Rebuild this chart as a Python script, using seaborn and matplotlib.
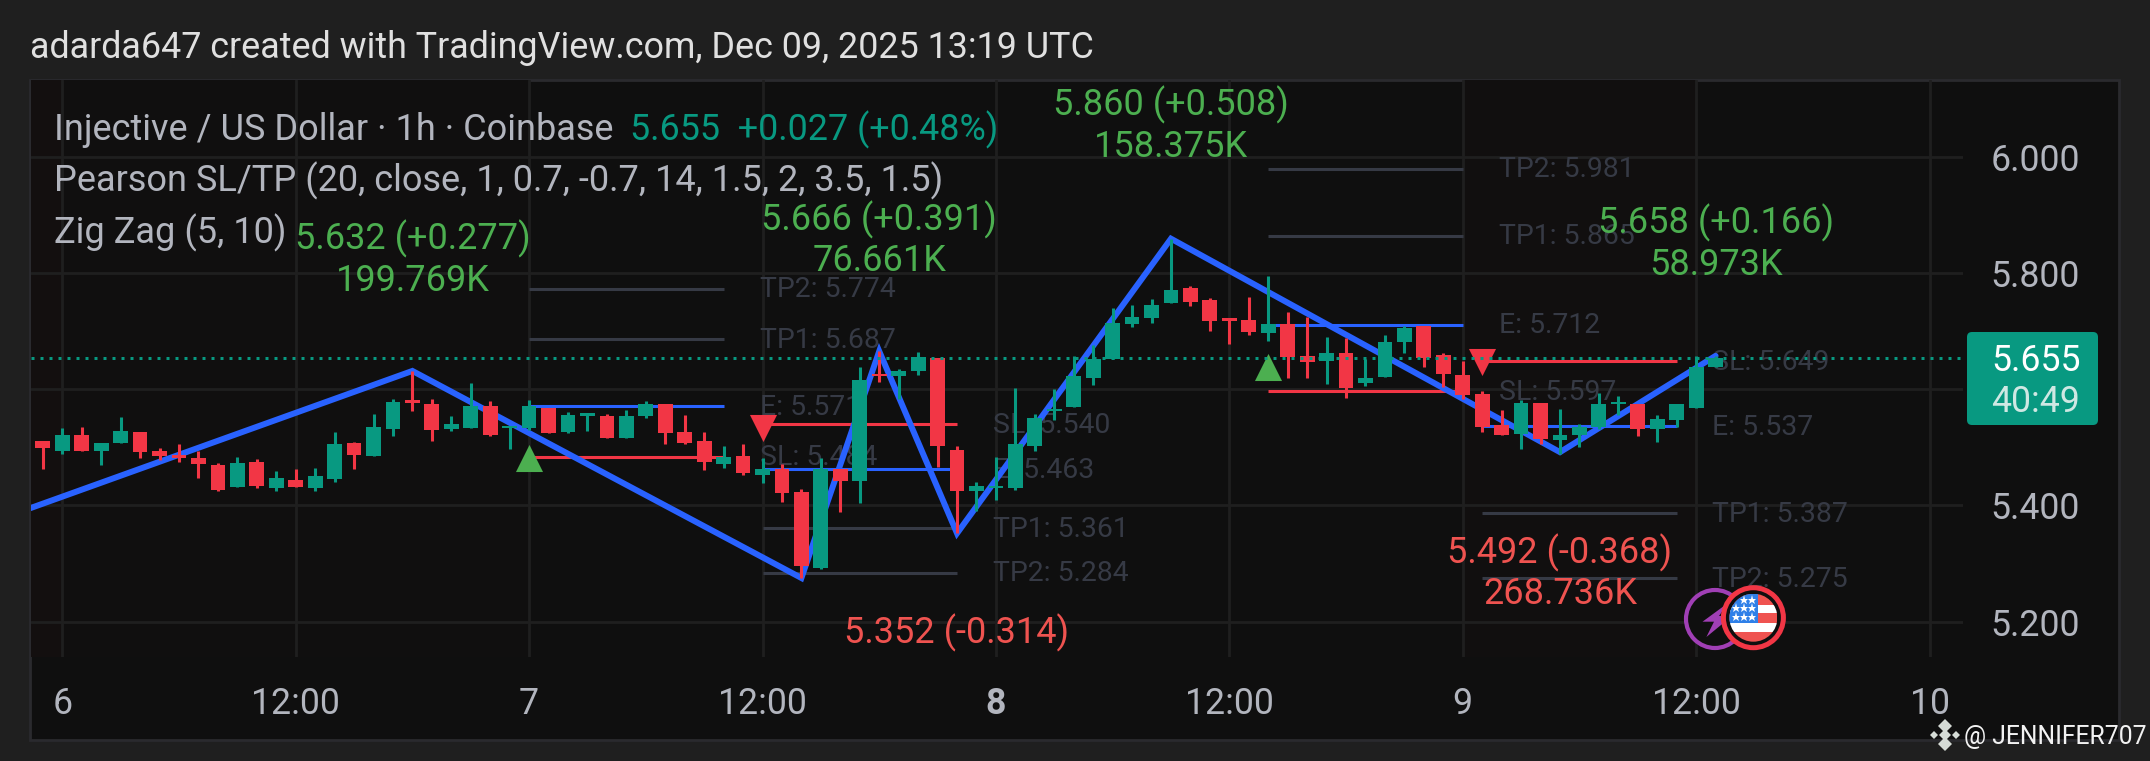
import numpy as np
import pandas as pd
import seaborn as sns
import matplotlib
matplotlib.use("Agg")
import matplotlib.pyplot as plt
from matplotlib.lines import Line2D
from matplotlib.patches import Rectangle, FancyBboxPatch, Circle, Polygon
from matplotlib.transforms import IdentityTransform

# ---------- data ----------
first_hour = -1
opens = [5.511,5.494,5.522,5.494,5.508,5.527,5.494,5.487,5.482,5.470,5.432,5.475,5.430,5.444,5.430,5.446,5.508,5.485,5.532,5.582,5.575,5.532,5.534,5.572,5.534,5.534,
         5.568,5.527,5.554,5.554,5.516,5.554,5.575,5.527,5.511,5.472,5.485,5.453,5.463,5.423,5.292,5.463,5.442,5.627,5.623,5.632,5.654,5.496,5.425,5.430,5.430,5.503,
         5.563,5.570,5.620,5.653,5.713,5.723,5.749,5.775,5.754,5.723,5.720,5.698,5.713,5.658,5.649,5.663,5.611,5.622,5.682,5.710,5.660,5.625,5.592,5.539,5.523,
         5.577,5.513,5.522,5.535,5.575,5.575,5.532,5.547,5.568,5.639]
highs = [5.511,5.534,5.535,5.508,5.553,5.527,5.499,5.506,5.494,5.473,5.484,5.480,5.460,5.463,5.465,5.527,5.510,5.558,5.584,5.632,5.584,5.554,5.611,5.580,5.537,5.582,
         5.568,5.561,5.560,5.558,5.565,5.580,5.575,5.556,5.527,5.503,5.506,5.482,5.472,5.428,5.482,5.463,5.639,5.667,5.635,5.665,5.654,5.503,5.441,5.484,5.603,5.558,
         5.601,5.658,5.677,5.741,5.746,5.756,5.860,5.779,5.758,5.723,5.760,5.796,5.734,5.725,5.691,5.689,5.653,5.694,5.710,5.710,5.663,5.649,5.597,5.565,5.582,
         5.577,5.566,5.541,5.594,5.589,5.575,5.556,5.575,5.658,5.658]
lows = [5.463,5.489,5.494,5.470,5.508,5.482,5.478,5.475,5.447,5.425,5.432,5.430,5.425,5.432,5.425,5.441,5.463,5.485,5.520,5.563,5.511,5.529,5.534,5.520,5.497,5.530,
        5.525,5.525,5.529,5.516,5.516,5.551,5.506,5.506,5.461,5.465,5.453,5.439,5.406,5.275,5.290,5.389,5.404,5.613,5.584,5.625,5.466,5.353,5.391,5.409,5.427,5.494,
        5.547,5.570,5.608,5.653,5.708,5.715,5.749,5.744,5.701,5.679,5.694,5.684,5.620,5.620,5.610,5.585,5.606,5.622,5.663,5.639,5.604,5.584,5.527,5.522,5.497,
        5.506,5.489,5.501,5.532,5.556,5.520,5.510,5.535,5.568,5.639]
closes = [5.499,5.522,5.494,5.508,5.529,5.492,5.485,5.482,5.472,5.427,5.473,5.434,5.447,5.432,5.451,5.506,5.487,5.535,5.579,5.577,5.530,5.541,5.572,5.522,5.537,5.572,
          5.525,5.556,5.560,5.516,5.554,5.575,5.525,5.508,5.475,5.484,5.456,5.463,5.422,5.296,5.463,5.442,5.616,5.623,5.632,5.656,5.503,5.425,5.434,5.434,5.506,5.551,
          5.566,5.623,5.653,5.715,5.725,5.746,5.772,5.751,5.718,5.718,5.699,5.713,5.656,5.648,5.663,5.603,5.620,5.682,5.706,5.654,5.627,5.591,5.535,5.522,5.577,
          5.515,5.522,5.535,5.575,5.579,5.532,5.549,5.575,5.639,5.655]

zig_hours = [-5, 18, 38, 42, 46, 57, 77, 85]
zig_prices = [5.355, 5.632, 5.275, 5.666, 5.352, 5.860, 5.492, 5.658]

level_starts = [24, 24, 24, 24, 36, 36, 36, 36, 62, 62, 62, 62, 73, 73, 73, 73]
level_ends   = [34, 34, 34, 34, 46, 46, 46, 46, 72, 72, 72, 72, 83, 83, 83, 83]
level_prices = [5.774, 5.687, 5.571, 5.484, 5.540, 5.463, 5.361, 5.284, 5.981, 5.865, 5.712, 5.597, 5.649, 5.537, 5.387, 5.275]
level_kinds  = ["TP2","TP1","E","SL","SL","E","TP1","TP2","TP2","TP1","E","SL","SL","E","TP1","TP2"]

signal_hours = [24, 36, 62, 73]
signal_prices = [5.482, 5.534, 5.638, 5.648]
signal_kinds = ["long", "short", "long", "short"]

label_hours = [18, 18, 57, 57, 42, 42, 46, 85, 85, 77, 77]
label_prices = [5.860, 5.787, 6.090, 6.018, 5.892, 5.822, 5.180, 5.887, 5.814, 5.319, 5.247]
label_texts = ["5.632 (+0.277)", "199.769K", "5.860 (+0.508)", "158.375K", "5.666 (+0.391)", "76.661K",
               "5.352 (-0.314)", "5.658 (+0.166)", "58.973K", "5.492 (-0.368)", "268.736K"]
last_price = 5.655
x_ticks = [0, 12, 24, 36, 48, 60, 72, 84, 96]
x_labels = ["6", "12:00", "7", "12:00", "8", "12:00", "9", "12:00", "10"]
y_ticks = [5.2, 5.4, 5.6, 5.8, 6.0]

# ---------- style ----------
UP, DOWN = "#089981", "#f23645"
W, H = 2150, 761
sns.set_theme(style="dark")
plt.rcParams["font.family"] = ["Roboto", "DejaVu Sans"]

fig = plt.figure(figsize=(W/100, H/100), dpi=100, facecolor="#1f1f1f")
ID = IdentityTransform()
def Y(y):
    return H - y
fig.add_artist(Rectangle((30, Y(740)), 2089, 660, transform=ID, fc="#0f0f0f", ec="#2a2a2e", lw=2, zorder=-5))

ax = fig.add_axes([31/W, 1-657/H, (1963-31)/W, (657-80)/H])
ax.set_facecolor("none")

df = pd.DataFrame({"hour": np.arange(len(opens)) + first_hour, "open": opens, "high": highs, "low": lows, "close": closes})
df["bottom"] = df[["open", "close"]].min(axis=1)
df["height"] = (df["close"] - df["open"]).abs()
df["up"] = df["close"] >= df["open"]

ax.axvspan(-1.7, 0, color="#130f0f", lw=0, zorder=0)
ax.axvspan(0, 24, color="#100f0f", lw=0, zorder=0)
ax.axvspan(72, 84, color="#110f0f", lw=0, zorder=0)

# levels
grey = "#363a45"
for s, e, p, k in zip(level_starts, level_ends, level_prices, level_kinds):
    c = {"E": "#2962ff", "SL": DOWN}.get(k, grey)
    ax.hlines(p, s, e, colors=c, lw=2.2, zorder=2)
    lx = {24: 35.87, 36: 47.87, 62: 73.87, 73: 84.8}[s]
    ax.text(lx, p - 0.002, f"{k}: {p:.3f}", color=grey, fontsize=20.4, va="center", ha="left", zorder=1.5)

# zigzag
sns.lineplot(x=zig_hours, y=zig_prices, color="#2962ff", linewidth=4.3, ax=ax, zorder=3, sort=False, errorbar=None,
             solid_joinstyle="miter")

# candles
for flag, col in [(True, UP), (False, DOWN)]:
    sub = df[df["up"] == flag]
    ax.vlines(sub["hour"], sub["low"], sub["high"], colors=col, lw=2.2, zorder=4)
    sns.barplot(data=sub, x="hour", y="height", bottom=sub["bottom"].to_numpy(), native_scale=True, color=col,
                saturation=1, width=0.76, errorbar=None, linewidth=0, ax=ax, zorder=4)

# signals
sig = pd.DataFrame({"h": signal_hours, "p": signal_prices, "k": signal_kinds})
sns.scatterplot(data=sig[sig.k == "long"], x="h", y="p", marker="^", s=380, color="#4caf50", linewidth=0, ax=ax, zorder=4.5)
sns.scatterplot(data=sig[sig.k == "short"], x="h", y="p", marker="v", s=380, color=DOWN, linewidth=0, ax=ax, zorder=4.5)

# last price
ax.axhline(last_price, color=UP, lw=2.16, ls=(0, (1, 2)), zorder=5)

# pivot labels
for h, p, t in zip(label_hours, label_prices, label_texts):
    col = "#ef5350" if "-" in t or t == "268.736K" else "#4caf50"
    ax.text(h, p, t, color=col, fontsize=26, ha="center", va="center", zorder=6)

# axes
ax.set_xlim(-1.609, 97.72)
ax.set_ylim(5.1388, 6.1336)
ax.set_xticks(x_ticks)
ax.set_xticklabels(x_labels)
ax.set_yticks(y_ticks)
ax.set_yticklabels([f"{v:.3f}" for v in y_ticks])
ax.yaxis.tick_right()
ax.set_xlabel(""); ax.set_ylabel("")
ax.tick_params(axis="x", length=0, pad=21, labelsize=25.7, labelcolor="#b2b5be")
ax.tick_params(axis="y", length=0, pad=20, labelsize=25.7, labelcolor="#b2b5be", labelright=True, labelleft=False)
ax.get_xticklabels()[4].set_fontweight("bold")
ax.grid(True, color="#1f1f1f", lw=2)
ax.set_axisbelow(True)
for s in ax.spines.values():
    s.set_visible(False)

# chrome text
fig.text(30/W, Y(48.5)/H, "adarda647 created with TradingView.com, Dec 09, 2025 13:19 UTC", color="#e0e0e0", fontsize=25.85, va="center")
lg = "#b2b5be"
fig.text(54/W, Y(130)/H, "Injective / US Dollar · 1h · Coinbase", color=lg, fontsize=26, va="center")
fig.text(630/W, Y(130)/H, "5.655  +0.027 (+0.48%)", color=UP, fontsize=25.8, va="center")
fig.text(54/W, Y(181)/H, "Pearson SL/TP (20, close, 1, 0.7, -0.7, 14, 1.5, 2, 3.5, 1.5)", color=lg, fontsize=26, va="center")
fig.text(54/W, Y(233)/H, "Zig Zag (5, 10)", color=lg, fontsize=26, va="center")

# last price tag
fig.add_artist(FancyBboxPatch((1967, Y(425)), 131, 93, boxstyle="round,pad=0,rounding_size=5", transform=ID, fc=UP, ec="none", zorder=2))
fig.text(2036/W, Y(361)/H, "5.655", color="white", fontsize=25.7, ha="center", va="center", zorder=3)
fig.text(2036/W, Y(402)/H, "40:49", color="#cfe8e3", fontsize=25.7, ha="center", va="center", zorder=3)

# watermark
fig.text(1964/W, Y(737)/H, "@ JENNIFER707", color="#f2f2f2", fontsize=17.8, va="center")
for dx, dy, ms in [(0, 0, 6), (-11, 0, 4.5), (11, 0, 4.5), (0, -9, 7), (0, 9, 7)]:
    c = "#d5dbd6" if dy == 0 else "#d5dbd6"
    fig.add_artist(Line2D([1944.5+dx], [Y(734.5+dy)], marker="D", ms=ms, color=c, mew=0, transform=ID, zorder=3))

# icons
fig.add_artist(Circle((1715, Y(619)), 29, transform=ID, fc="#0f0f0f", ec="#a03fb5", lw=3, zorder=4))
fig.add_artist(Polygon([(1728, Y(603)), (1702.5, Y(621.7)), (1714, Y(621.7)), (1706.4, Y(637)), (1732, Y(616)), (1719, Y(616))],
                       transform=ID, fc="#a03fb5", ec="none", zorder=4.1))
cx, cy, r = 1753.4, 617.7, 24
fig.add_artist(Circle((cx, Y(cy)), 30, transform=ID, fc="#0f0f0f", ec=DOWN, lw=3.6, zorder=4.2))
clip = Circle((cx, Y(cy)), r, transform=ID)
stripes = [(594, 604.5, "#ef5350"), (604.5, 613, "#ffffff"), (613, 623, "#ef5350"), (623, 632, "#ffffff"), (632, 642, "#ef5350")]
for y0, y1, c in stripes:
    a = fig.add_artist(Rectangle((cx-r, Y(y1)), 2*r, y1-y0, transform=ID, fc=c, ec="none", zorder=4.3))
    a.set_clip_path(clip)
a = fig.add_artist(Rectangle((cx-r, Y(623)), 29, 29, transform=ID, fc="#2f80e8", ec="none", zorder=4.4))
a.set_clip_path(clip)
for sx, sy in [(1744, 600), (1752, 600), (1736, 608), (1744, 608), (1752, 608), (1736, 616.5), (1744, 616.5), (1752, 616.5)]:
    fig.add_artist(Line2D([sx], [Y(sy)], marker="*", ms=6.5, color="white", mew=0, transform=ID, zorder=4.5))

fig.savefig("out.png", dpi=100, facecolor=fig.get_facecolor())
